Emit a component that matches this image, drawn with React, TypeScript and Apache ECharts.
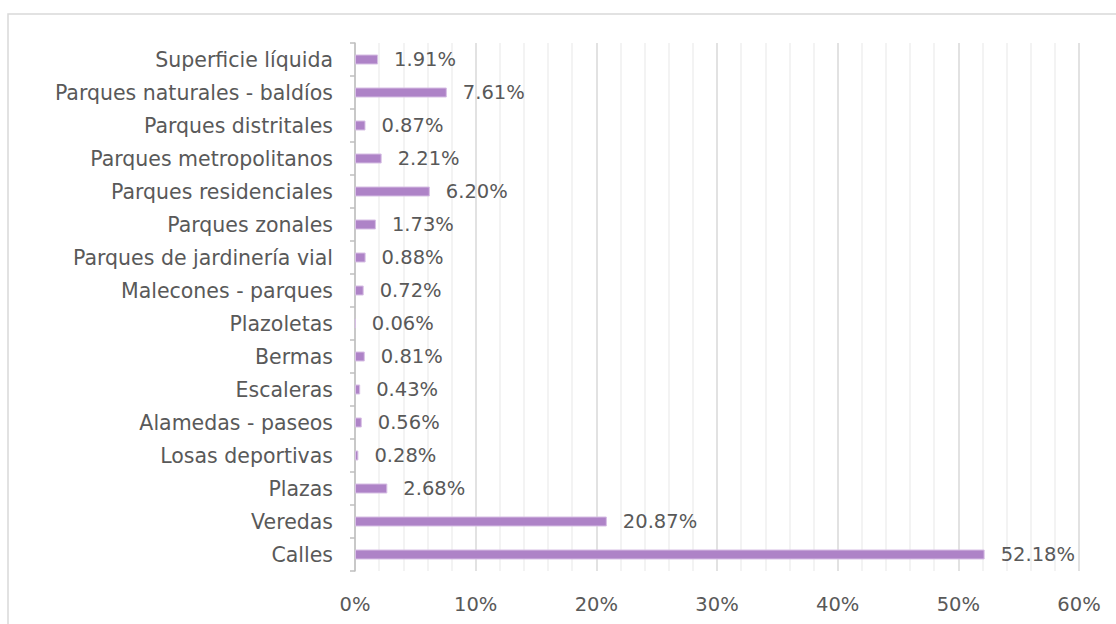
import React, { useEffect, useRef } from "react";
import * as echarts from "echarts";

const categories = [
  "Superficie líquida",
  "Parques naturales - baldíos",
  "Parques distritales",
  "Parques metropolitanos",
  "Parques residenciales",
  "Parques zonales",
  "Parques de jardinería vial",
  "Malecones - parques",
  "Plazoletas",
  "Bermas",
  "Escaleras",
  "Alamedas - paseos",
  "Losas deportivas",
  "Plazas",
  "Veredas",
  "Calles",
];
const values = [1.91, 7.61, 0.87, 2.21, 6.2, 1.73, 0.88, 0.72, 0.06, 0.81, 0.43, 0.56, 0.28, 2.68, 20.87, 52.18];

const FONT = "DejaVu Sans";
const TEXT = "#595959";

export default function App() {
  const ref = useRef<HTMLDivElement>(null);
  useEffect(() => {
    const chart = echarts.init(ref.current!, null, { renderer: "svg" });
    chart.setOption({
      animation: false,
      backgroundColor: "#ffffff",
      graphic: [
        {
          type: "rect",
          shape: { x: 8, y: 14, width: 1200, height: 700 },
          style: { fill: "none", stroke: "#d9d9d9", lineWidth: 1.5 },
          silent: true,
        },
      ],
      grid: { left: 355, right: 37, top: 43, bottom: 53, containLabel: false },
      xAxis: {
        type: "value",
        min: 0,
        max: 60,
        interval: 10,
        axisLine: { show: false },
        axisTick: { show: false },
        axisLabel: {
          formatter: "{value}%",
          color: TEXT,
          fontFamily: FONT,
          fontSize: 19.5,
          margin: 23,
        },
        splitLine: { show: true, lineStyle: { color: "#d9d9d9", width: 1.5 } },
        minorTick: { show: false, splitNumber: 5 },
        minorSplitLine: { show: true, lineStyle: { color: "#efefef", width: 1.5 } },
      },
      yAxis: {
        type: "category",
        data: categories,
        inverse: true,
        axisLine: { show: true, lineStyle: { color: "#bfbfbf", width: 1.5 } },
        axisTick: { show: true, length: 5, lineStyle: { color: "#bfbfbf", width: 1.5 } },
        axisLabel: {
          color: TEXT,
          fontFamily: FONT,
          fontSize: 20.5,
          margin: 22,
        },
        splitLine: { show: false },
      },
      series: [
        {
          type: "bar",
          data: values,
          barWidth: 10,
          itemStyle: { color: "#ae83c7", borderColor: "#d7bfe4", borderWidth: 1 },
          label: {
            show: true,
            position: "right",
            distance: 16,
            formatter: (p: any) => p.value.toFixed(2) + "%",
            color: TEXT,
            fontFamily: FONT,
            fontSize: 19.5,
          },
        },
      ],
    });
    return () => chart.dispose();
  }, []);
  return (
    <div
      ref={ref}
      style={{ position: "fixed", left: 0, top: 0, width: 1116, height: 624 }}
    />
  );
}
